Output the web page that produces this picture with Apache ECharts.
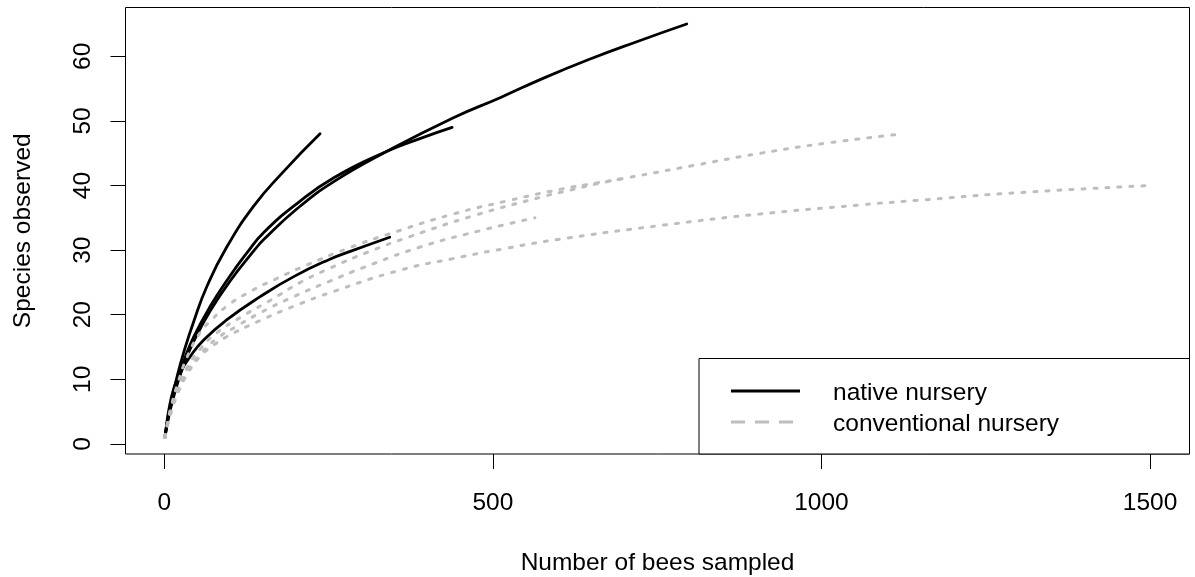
<!DOCTYPE html>
<html>
<head>
<meta charset="utf-8">
<title>Species accumulation by nursery type</title>
<script src="https://cdn.jsdelivr.net/npm/echarts@6/dist/echarts.min.js"></script>
<style>
  html, body { margin: 0; padding: 0; background: #fff; }
  #chart { width: 1195px; height: 577px; }
</style>
</head>
<body>
<div id="chart"></div>
<script>
// Rarefaction curves: [bees sampled, species observed]
const native1 = [[1,1],[5,3.6],[10,6.2],[20,10.6],[30,14.3],[45,19.0],[65,24.4],[93,30.1],[136,36.8],[180,42.0],[237,48]];
const native2 = [[1,1],[5,3.5],[10,6.0],[20,9.8],[30,12.9],[45,16.6],[70,21.3],[100,26.0],[126,29.6],[151,32.7],[202,37.2],[258,41.2],[339,45.3],[390,47.3],[438,49.0]];
const native3 = [[1,1],[5,3.3],[10,5.6],[20,9.3],[30,12.3],[45,15.9],[70,20.6],[100,25.2],[138,30.1],[151,31.6],[202,36.4],[258,40.6],[339,45.3],[440,50.5],[511,53.6],[572,56.4],[646,59.5],[720,62.3],[795,65]];
const native4 = [[1,1],[3,2.6],[7,5.3],[14,8.4],[24,11.0],[40,13.6],[60,16.1],[95,19.2],[146,22.8],[197,25.9],[252,28.6],[283,29.8],[343,32]];

const conv1 = [[1,1],[5,3.3],[10,5.6],[20,9.2],[35,13.5],[55,17.3],[70,19.0],[95,21.3],[131,23.6],[171,25.6],[217,27.7],[280,30.3],[339,32.4],[440,35.6],[521,37.6],[602,39.4],[658,40.4],[704,41.2],[805,43.1],[907,45.0],[1010,46.6],[1124,48]];
const conv2 = [[1,1],[5,3.1],[10,5.2],[20,8.3],[35,11.8],[55,14.7],[80,17.2],[121,19.9],[161,22.2],[207,25.0],[252,27.2],[310,29.7],[374,32.1],[473,35.4],[577,38.3],[618,39.3],[660,40.3],[705,41.2]];
const conv3 = [[1,1],[5,3.0],[10,5.0],[20,8.0],[35,11.2],[55,13.9],[80,16.3],[110,18.2],[146,20.3],[197,22.8],[252,25.2],[303,27.3],[387,30.4],[476,32.9],[564,35]];
const conv4 = [[1,1],[5,2.9],[12,5.4],[17,6.9],[24,8.6],[35,10.8],[55,13.6],[70,14.9],[95,16.6],[146,19.1],[197,21.3],[252,23.4],[359,26.9],[440,28.7],[521,30.3],[602,31.7],[754,33.8],[907,35.6],[1059,37.0],[1145,37.7],[1300,38.9],[1500,40]];

const xTicks = [0, 500, 1000, 1500];
const yTicks = [0, 10, 20, 30, 40, 50, 60];

const nativeName = 'native nursery';
const convName = 'conventional nursery';

const FONT = 'Liberation Sans, Arial, Helvetica, sans-serif';
const FS = 24.5;

function curve(name, data, dotted) {
  return {
    type: 'line',
    name: name,
    data: data,
    symbol: 'none',
    showSymbol: false,
    smooth: 0.5,
    silent: true,
    z: dotted ? 3 : 2,
    lineStyle: dotted
      ? { color: '#BEBEBE', width: 3, type: [3, 9], cap: 'round' }
      : { color: '#000000', width: 2.8, type: 'solid', cap: 'round' }
  };
}

const chart = echarts.init(document.getElementById('chart'), null, { renderer: 'canvas' });

chart.setOption({
  animation: false,
  backgroundColor: '#ffffff',
  textStyle: { fontFamily: FONT },
  grid: {
    left: 125.5, right: 5.5, top: 7.5, bottom: 123,
    outerBoundsMode: 'none',
    containLabel: false,
    show: true, borderColor: '#000', borderWidth: 1, backgroundColor: 'transparent'
  },
  xAxis: {
    type: 'value',
    min: -58.96, max: 1559.96,
    name: 'Number of bees sampled',
    nameLocation: 'middle',
    nameGap: 96.5,
    nameTextStyle: { color: '#000', fontSize: FS, fontFamily: FONT },
    axisLine: { show: false, onZero: false },
    splitLine: { show: false },
    axisTick: { show: true, customValues: xTicks, length: 15, lineStyle: { color: '#000', width: 1 } },
    axisLabel: { customValues: xTicks, margin: 37, color: '#000', fontSize: FS, fontFamily: FONT,
                 formatter: function (v) { return String(v); } }
  },
  yAxis: {
    type: 'value',
    min: -1.56, max: 67.56,
    name: 'Species observed',
    nameLocation: 'middle',
    nameRotate: 90,
    nameGap: 90,
    nameTextStyle: { color: '#000', fontSize: FS, fontFamily: FONT },
    axisLine: { show: false, onZero: false },
    splitLine: { show: false },
    axisTick: { show: true, customValues: yTicks, length: 15, lineStyle: { color: '#000', width: 1 } },
    axisLabel: { customValues: yTicks, rotate: 90, margin: 29.5, color: '#000', fontSize: FS, fontFamily: FONT,
                 formatter: function (v) { return String(v); } }
  },
  series: [
    curve(nativeName, native1, false),
    curve(nativeName, native2, false),
    curve(nativeName, native3, false),
    curve(nativeName, native4, false),
    curve(convName, conv1, true),
    curve(convName, conv2, true),
    curve(convName, conv3, true),
    curve(convName, conv4, true)
  ],
  graphic: [
    { type: 'rect', shape: { x: 699, y: 358.5, width: 490.5, height: 95.5 },
      style: { fill: '#fff', stroke: '#000', lineWidth: 1 }, z: 10 },
    { type: 'line', shape: { x1: 731, y1: 391, x2: 800, y2: 391 },
      style: { stroke: '#000', lineWidth: 3 }, z: 11 },
    { type: 'line', shape: { x1: 731, y1: 422, x2: 800, y2: 422 },
      style: { stroke: '#BEBEBE', lineWidth: 3, lineDash: [14, 10] }, z: 11 },
    { type: 'text', x: 833, y: 393.3, z: 11,
      style: { text: nativeName, fill: '#000', font: FS + 'px ' + FONT, verticalAlign: 'middle', align: 'left' } },
    { type: 'text', x: 833, y: 424.3, z: 11,
      style: { text: convName, fill: '#000', font: FS + 'px ' + FONT, verticalAlign: 'middle', align: 'left' } }
  ]
});
</script>
</body>
</html>
